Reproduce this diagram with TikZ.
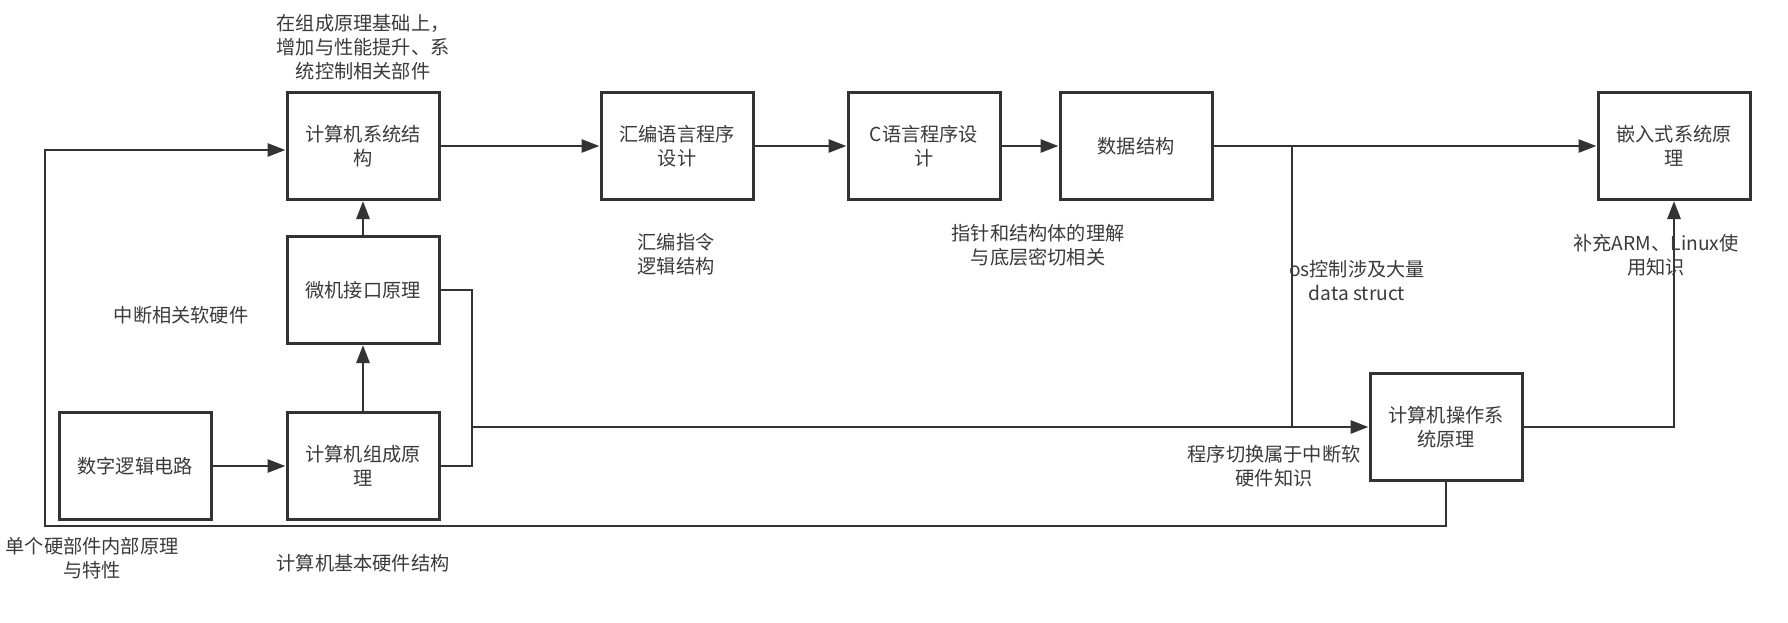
\documentclass[tikz,border=0pt]{standalone}
\usepackage{fontspec}
\setmainfont{Noto Sans CJK SC}
\usetikzlibrary{arrows.meta, positioning, calc}
\definecolor{flowline}{HTML}{333333}
\definecolor{flowtext}{HTML}{3A3A3A}

\begin{document}
\begin{tikzpicture}[x=0.5pt, y=-0.5pt,
    course/.style={draw=flowline, line width=1.5pt, fill=white,
                   minimum width=76pt, minimum height=53.5pt,
                   align=center, text=flowtext,
                   font=\fontsize{9.6}{12}\selectfont},
    note/.style={align=center, text=flowtext, inner sep=0pt,
                 font=\fontsize{9.6}{12}\selectfont},
    link/.style={draw=flowline, line width=1.4pt},
    flow/.style={link, -{Triangle[length=9pt, width=6.5pt]}}]
  \useasboundingbox (0,0) rectangle (1788,622);
  %% (A) Hardware column ─────────────────────────────────────
  \node[course] (logic) at (135,466) {数字逻辑电路};
  \node[course] (organ) at (363,466) {计算机组成原\\理};
  \node[course] (micro) at (363,290) {微机接口原理};
  \node[course] (sys)   at (363,146) {计算机系统结\\构};
  %% (B) Software row ────────────────────────────────────────
  \node[course] (asm)   at (677,146) {汇编语言程序\\设计};
  \node[course] (clang) at (924,146) {C语言程序设\\计};
  \node[course] (ds)    at (1136,146) {数据结构};
  \node[course] (emb)   at (1674,146) {嵌入式系统原\\理};
  \node[course] (os)    at (1446,427) {计算机操作系\\统原理};
  %% (C) Junctions ───────────────────────────────────────────
  \coordinate (busx)  at (472,427);
  \coordinate (dsj)   at (1292,146);
  \coordinate (loop)  at (45,526);
  %% (D) Connectors ──────────────────────────────────────────
  \draw[flow] (logic) -- (organ);
  \draw[flow] (organ) -- (micro);
  \draw[flow] (micro) -- (sys);
  \draw[flow] (sys) -- (asm);
  \draw[flow] (asm) -- (clang);
  \draw[flow] (clang) -- (ds);
  \draw[flow] (ds) -- (emb);
  \draw[link] (micro.east) -| (busx) |- (organ.east);
  \draw[flow] (busx) -- (os.west);
  \draw[link] (dsj) -- (dsj |- os.west);
  \draw[flow] (os.east) -| (emb.south);
  \draw[flow] (os.south) |- (loop) |- ([yshift=-2pt]sys.west);
  %% (E) Notes ───────────────────────────────────────────────
  \node[note] (sysnote)    at (363,47)   {在组成原理基础上，\\增加与性能提升、系\\统控制相关部件};
  \node[note] (asmnote)    at (676,254)  {汇编指令\\逻辑结构};
  \node[note] (cnote)      at (1038,245) {指针和结构体的理解\\与底层密切相关};
  \node[note] (osnote)     at (1357,281) {os控制涉及大量\\data struct};
  \node[note] (embnote)    at (1656,255) {补充ARM、Linux使\\用知识};
  \node[note] (irqnote)    at (181,315)  {中断相关软硬件};
  \node[note] (switchnote) at (1274,466) {程序切换属于中断软\\硬件知识};
  \node[note] (unitnote)   at (92,558)   {单个硬部件内部原理\\与特性};
  \node[note] (basenote)   at (363,563)  {计算机基本硬件结构};
\end{tikzpicture}
\end{document}
